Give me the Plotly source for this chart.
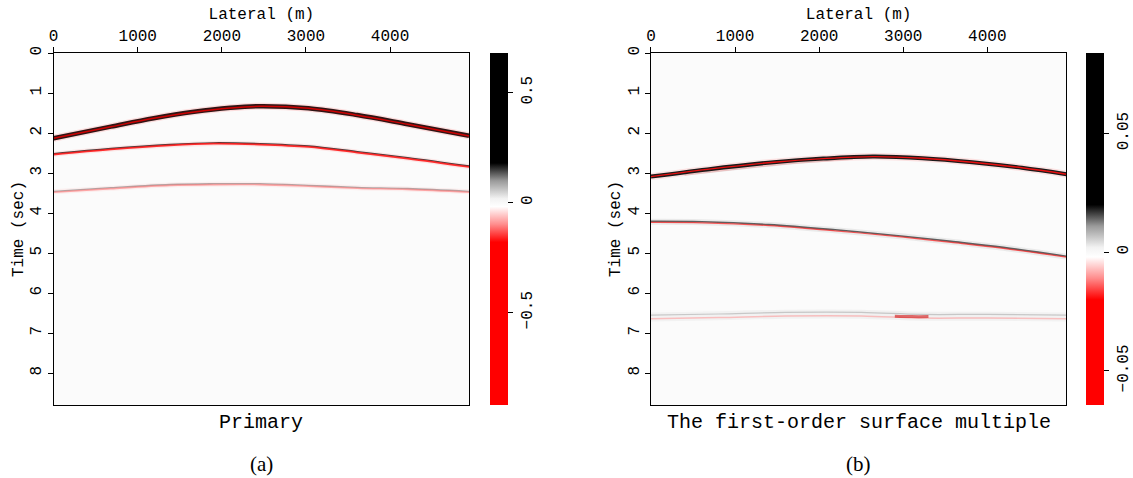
import plotly.graph_objects as go

# ---------------- data ----------------
lateral_max = 4940          # m
time_max = 8.8              # s
x_ticks = [0, 1000, 2000, 3000, 4000]
y_ticks = [0, 1, 2, 3, 4, 5, 6, 7, 8]

# Panel (a): primary events - picked (lateral m, time s)
a_ev1_lat = [0, 680, 1190, 1670, 2100, 2450, 3030, 3610, 4210, 4940]
a_ev1_t = [2.13, 1.84, 1.63, 1.47, 1.37, 1.33, 1.38, 1.55, 1.78, 2.07]
a_ev2_lat = [0, 680, 1380, 1900, 2450, 3030, 3610, 4210, 4940]
a_ev2_t = [2.53, 2.40, 2.30, 2.26, 2.28, 2.34, 2.48, 2.63, 2.84]
a_ev3_lat = [0, 680, 1380, 1900, 2450, 3030, 3610, 4210, 4940]
a_ev3_t = [3.47, 3.38, 3.30, 3.28, 3.28, 3.32, 3.37, 3.40, 3.47]

# Panel (b): first-order surface multiple events
b_ev1_lat = [0, 670, 1460, 2050, 2640, 3230, 3820, 4410, 4940]
b_ev1_t = [3.09, 2.91, 2.73, 2.64, 2.59, 2.63, 2.73, 2.87, 3.03]
b_ghost_lat = [400, 1000, 1700, 2400]
b_ghost_t = [3.03, 2.89, 2.74, 2.63]
b_ev2_lat = [0, 610, 1400, 2190, 3000, 3570, 4190, 4940]
b_ev2_t = [4.22, 4.23, 4.30, 4.43, 4.59, 4.72, 4.87, 5.09]
b_ev3_lat = [0, 800, 1600, 2500, 3200, 4000, 4940]
b_ev3_t = [6.60, 6.57, 6.53, 6.53, 6.58, 6.58, 6.60]
b_spot_lat = [2900, 3100, 3300]
b_spot_t = [6.58, 6.59, 6.59]

# colour bar ranges and clip levels
a_cmin, a_cmax, a_clip = -0.92, 0.68, 0.18
b_cmin, b_cmax, b_clip = -0.0644, 0.0839, 0.02
a_cticks = [-0.5, 0, 0.5]
b_cticks = [-0.05, 0, 0.05]

titles = ["Primary", "The first-order surface multiple"]
labels = ["(a)", "(b)"]

# ---------------- styling ----------------
W, H = 1133, 478
MONO = "Liberation Mono"
SERIF = "Liberation Serif"

def px_x(p):
    return p / W

def px_y(p):
    return 1 - p / H

ydom = [px_y(405), px_y(53)]
xdoms = [[px_x(54), px_x(472)], [px_x(655), px_x(1073)]]


def seis_scale(cmin, cmax, clip):
    stops = [(-clip, "#ff0000"), (-0.55 * clip, "#ff8c8c"), (-0.1 * clip, "#ffffff"),
             (0.1 * clip, "#f2f2f2"), (0.55 * clip, "#9a9a9a"), (clip, "#000000")]
    cs = [[0.0, "#ff0000"]]
    for v, c in stops:
        cs.append([(v - cmin) / (cmax - cmin), c])
    cs.append([1.0, "#000000"])
    return cs


fig = go.Figure()


def add_event(lat, t, layers, xa, ya):
    for off, color, width, op in layers:
        fig.add_trace(go.Scatter(
            x=lat, y=[v + off for v in t], mode="lines",
            line=dict(color=color, width=width, shape="spline", smoothing=1.0),
            opacity=op, xaxis=xa, yaxis=ya, hoverinfo="skip", showlegend=False))


# panel (a)
add_event(a_ev1_lat, a_ev1_t, [(0.0, "#ff0000", 7, 0.12), (0.0, "#1a0000", 4.5, 0.9),
                               (0.004, "#e00000", 1.5, 0.9)], "x", "y")
add_event(a_ev2_lat, a_ev2_t, [(0.0, "#ff5050", 5, 0.12), (-0.014, "#202020", 1.4, 0.85),
                               (0.008, "#ff1a1a", 1.8, 0.9)], "x", "y")
add_event(a_ev3_lat, a_ev3_t, [(0.0, "#ff9090", 5, 0.12), (-0.012, "#707070", 1.3, 0.55),
                               (0.01, "#ff6a6a", 1.6, 0.55)], "x", "y")

# panel (b)
add_event(b_ghost_lat, b_ghost_t, [(0.0, "#ff9090", 3, 0.2), (0.02, "#a0a0a0", 1.5, 0.2)], "x2", "y2")
add_event(b_ev1_lat, b_ev1_t, [(0.0, "#ff0000", 7, 0.10), (0.0, "#101010", 4, 0.95),
                               (0.0, "#ff1010", 1.4, 0.9)], "x2", "y2")
add_event(b_ev2_lat, b_ev2_t, [(0.0, "#909090", 6, 0.15), (-0.01, "#303030", 1.6, 0.75),
                               (0.015, "#ff2020", 1.2, 0.7)], "x2", "y2")
add_event(b_ev3_lat, b_ev3_t, [(0.0, "#b0b0b0", 9, 0.12), (-0.045, "#8a8a8a", 1.2, 0.4),
                               (0.045, "#ff8080", 1.5, 0.45)], "x2", "y2")
add_event(b_spot_lat, b_spot_t, [(0.0, "#d01010", 3, 0.6)], "x2", "y2")

# colour bars (invisible markers carry the scales)
for i, (cmin, cmax, clip, ticks, xa, ya, xpix) in enumerate([
        (a_cmin, a_cmax, a_clip, a_cticks, "x", "y", 493),
        (b_cmin, b_cmax, b_clip, b_cticks, "x2", "y2", 1093)]):
    fig.add_trace(go.Scatter(
        x=[lateral_max / 2, lateral_max / 2], y=[time_max / 2, time_max / 2],
        mode="markers", xaxis=xa, yaxis=ya, hoverinfo="skip", showlegend=False,
        marker=dict(size=1, opacity=0, color=[cmin, cmax], cmin=cmin, cmax=cmax,
                    colorscale=seis_scale(cmin, cmax, clip), showscale=True,
                    colorbar=dict(
                        x=px_x(xpix), xanchor="left", xpad=0, ypad=0,
                        y=(ydom[0] + ydom[1]) / 2, yanchor="middle",
                        len=ydom[1] - ydom[0], lenmode="fraction",
                        thickness=18, thicknessmode="pixels",
                        outlinewidth=0,
                        tickvals=ticks, ticks="outside", ticklen=5,
                        tickcolor="black", tickangle=-90,
                        tickfont=dict(family=MONO, size=16, color="black")))))

axis_common = dict(showgrid=False, zeroline=False, showline=True, mirror=True,
                   linecolor="black", linewidth=1, ticks="outside", ticklen=5,
                   tickcolor="black", tickfont=dict(family=MONO, size=16, color="black"),
                   automargin=False)

layout = dict(
    width=W, height=H, margin=dict(l=0, r=0, t=0, b=0),
    paper_bgcolor="white", plot_bgcolor="#fbfbfb", showlegend=False,
)
for i in range(2):
    sx = "" if i == 0 else "2"
    layout["xaxis" + sx] = dict(
        axis_common, domain=xdoms[i], range=[0, lateral_max], side="top",
        anchor="y" + sx, tickvals=x_ticks,
        title=dict(text="Lateral (m)", standoff=3,
                   font=dict(family=MONO, size=16, color="black")))
    layout["yaxis" + sx] = dict(
        axis_common, domain=ydom, range=[time_max, 0], anchor="x" + sx,
        tickvals=y_ticks, tickangle=-90,
        title=dict(text="Time (sec)", standoff=0,
                   font=dict(family=MONO, size=16, color="black")))

fig.update_layout(**layout)

for i in range(2):
    cx = (xdoms[i][0] + xdoms[i][1]) / 2
    fig.add_annotation(x=cx, y=px_y(422), xref="paper", yref="paper",
                       text=titles[i], showarrow=False, xanchor="center", yanchor="middle",
                       font=dict(family=MONO, size=20, color="black"))
    fig.add_annotation(x=cx, y=px_y(464), xref="paper", yref="paper",
                       text=labels[i], showarrow=False, xanchor="center", yanchor="middle",
                       font=dict(family=SERIF, size=21, color="black"))

fig.write_html("out.html", config={"responsive": False, "displayModeBar": False},
               post_script="document.body.style.margin='0';document.body.style.overflow='hidden';")
